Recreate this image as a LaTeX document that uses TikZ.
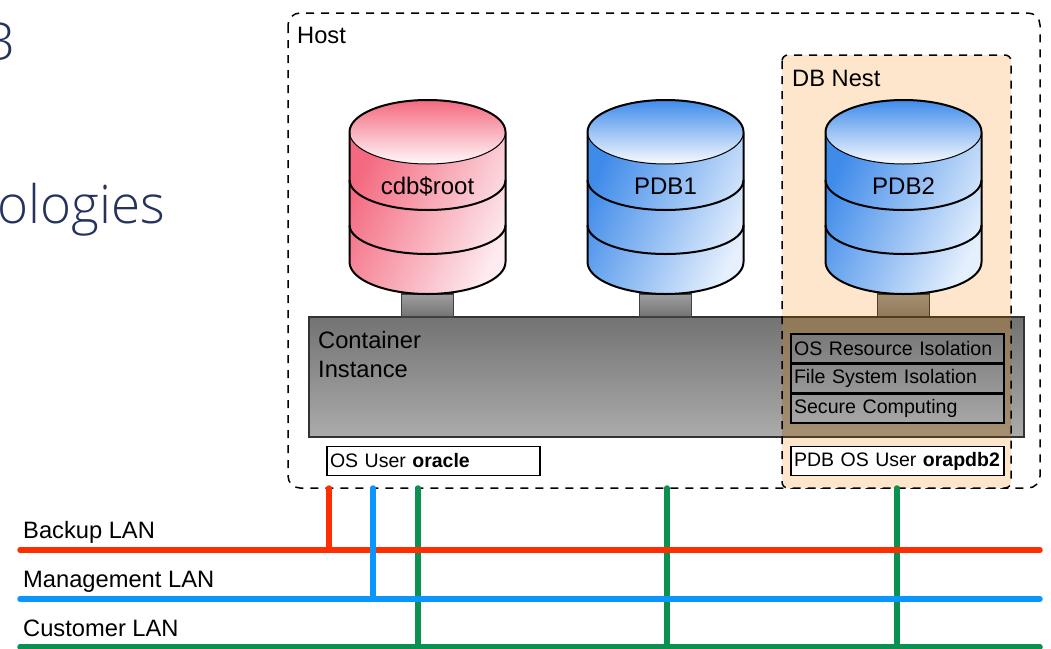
\documentclass[tikz,border=0pt]{standalone}
\usepackage{fontspec}
\setmainfont{Liberation Sans}
\newfontfamily\titlefont{Open Sans Light}
\usetikzlibrary{positioning}
\definecolor{pinkl}{HTML}{F4697F}
\definecolor{pinkr}{HTML}{FDEBEF}
\definecolor{bluel}{HTML}{3F8BEA}
\definecolor{bluer}{HTML}{E6F0FD}
\definecolor{nestfill}{HTML}{FDE6CB}
\definecolor{browntop}{HTML}{8F7959}
\definecolor{brownbot}{HTML}{A58F72}
\definecolor{brownline}{HTML}{4F3D20}
\definecolor{backupc}{HTML}{FF2D00}
\definecolor{mgmtc}{HTML}{0A96FF}
\definecolor{custc}{HTML}{0A9150}
\definecolor{titlec}{HTML}{25325C}
\begin{document}
\begin{tikzpicture}[x=1pt,y=-1pt,font=\fontsize{23.7}{29}\selectfont,
lbl/.style={inner sep=0pt,anchor=base west},
rowbox/.style={draw=black,line width=1.5pt,minimum width=213pt,minimum height=29pt,inner sep=3pt,text width=207pt,align=left,font=\fontsize{19.6}{24}\selectfont},
userbox/.style={draw=black,line width=1.5pt,fill=white,minimum height=29pt,inner sep=3pt,align=left,font=\fontsize{19.5}{24}\selectfont},
titletxt/.style={inner sep=0pt,anchor=base east,text=titlec,font=\titlefont\fontsize{53}{60}\selectfont},
dashbox/.style={line width=1.5pt,dash pattern=on 8pt off 7pt},
lan/.style={line width=5.5pt,line cap=round}]
\useasboundingbox (0,0) rectangle (1051,648);

% Title left over at the slide edge
\node[titletxt](ttop) at (15,60){B};
\node[titletxt](tbot) at (165,223){ologies};

% Host and nest
\draw[dashbox,rounded corners=12pt] (288,13) rectangle (1040,488);
\node[lbl](host) at (297,43){Host};
\fill[nestfill,rounded corners=6pt] (782,55) rectangle (1011,488);
\node[lbl](nest) at (792,86){DB Nest};

% Container instance
\draw[black!80,line width=1.5pt,top color=black!55,bottom color=black!33] (309,317) rectangle (1024,437);
\fill[top color=browntop,bottom color=brownbot] (782,318) rectangle (1011,436);
\draw[brownline,line width=1.5pt] (782,317) -- (1011,317) (782,437) -- (1011,437);
\draw[dashbox,rounded corners=6pt] (782,55) rectangle (1011,488);
\node[lbl,align=left,anchor=north west](inst) at (318,331){Container\\Instance};

% Databases
\foreach \cx/\dbid/\dbtxt/\dbl/\dbr/\stubt/\stubb/\stubl in {427.5/root/cdb\$root/pinkl/pinkr/black!38/black!55/black!75,665.5/one/PDB1/bluel/bluer/black!38/black!55/black!75,903.5/two/PDB2/bluel/bluer/brownbot/browntop/brownline}{
	\draw[draw=\stubl,line width=1.5pt,top color=\stubt,bottom color=\stubb] (\cx-26,294) rectangle (\cx+26,317);
	\path[left color=\dbl,middle color=\dbr!70!\dbl,right color=\dbr,shading angle=65] (\cx-78,132) -- (\cx-78,262) arc[start angle=180,end angle=0,x radius=78,y radius=32] -- (\cx+78,132) -- cycle;
	\path[top color=\dbl,bottom color=\dbr!30!white] (\cx,132) ellipse[x radius=78,y radius=32];
	\draw[line width=1pt] (\cx-78,132) arc[start angle=180,end angle=0,x radius=78,y radius=32];
	\draw[line width=2pt] (\cx-78,180) arc[start angle=180,end angle=0,x radius=78,y radius=30];
	\draw[line width=2pt] (\cx-78,225) arc[start angle=180,end angle=0,x radius=78,y radius=29];
	\draw[line width=2pt] (\cx-78,132) arc[start angle=180,end angle=360,x radius=78,y radius=32] -- (\cx+78,262) arc[start angle=0,end angle=180,x radius=78,y radius=32] -- cycle;
	\node[inner sep=0pt,font=\fontsize{24}{29}\selectfont](db\dbid) at (\cx,186){\dbtxt};
}

% Isolation features
\fill[top color=black!52,bottom color=black!35] (791,334) rectangle (1004,421);
\node[rowbox](rowres) at (897.5,348.5){OS Resource Isolation};
\node[rowbox,below=-0.5pt of rowres](rowfs){File System Isolation};
\node[rowbox,below=-0.5pt of rowfs](rowsec){Secure Computing};

% OS users
\node[userbox,minimum width=213pt,text width=207pt](uora) at (433.5,461){OS User \textbf{oracle}};
\node[userbox,minimum width=213pt,text width=207pt](updb) at (897.5,461){PDB OS User \textbf{orapdb2}};

% LANs
\node[lbl](backup) at (23,538){Backup LAN};
\node[lbl](mgmt) at (23,587){Management LAN};
\node[lbl](cust) at (23,636){Customer LAN};
\coordinate (bl) at (20,550);
\coordinate (br) at (1040,550);
\coordinate (ml) at (20,599);
\coordinate (mr) at (1040,599);
\coordinate (cl) at (20,647);
\coordinate (cr) at (1040,647);
\draw[lan,custc] (cl) -- (cr);
\foreach \x in {418,667,897}{
	\coordinate (d\x) at (\x,488);
	\draw[lan,custc] (d\x) -- (d\x |- cl);
}
\coordinate (d1) at (329,488);
\coordinate (d2) at (373,488);
\draw[lan,backupc] (bl) -- (br);
\draw[lan,backupc] (d1) -- (d1 |- bl);
\draw[lan,mgmtc] (ml) -- (mr);
\draw[lan,mgmtc] (d2) -- (d2 |- ml);
\end{tikzpicture}
\end{document}
